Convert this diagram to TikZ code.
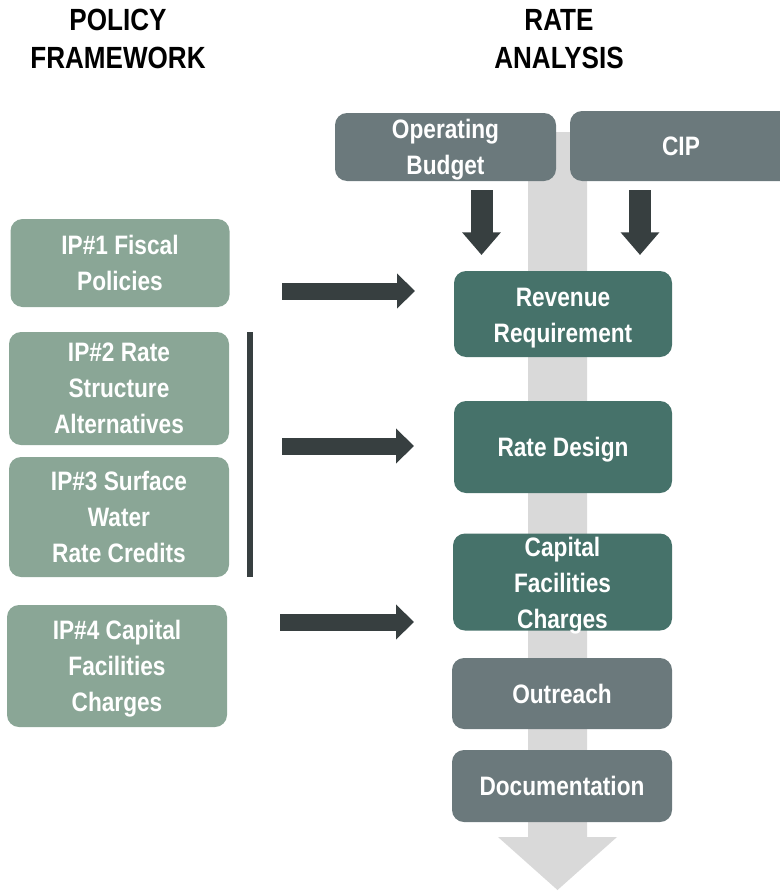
\documentclass[tikz,border=0pt]{standalone}
\usepackage{fontspec}
\setmainfont{Liberation Sans}[FakeStretch=0.85]
\usetikzlibrary{arrows.meta}
\definecolor{boxgray}{HTML}{6B797C}
\definecolor{boxgreen}{HTML}{46726A}
\definecolor{boxsage}{HTML}{8AA696}
\definecolor{arrowdark}{HTML}{373F40}
\definecolor{flowgray}{HTML}{D9D9D9}
\begin{document}
\begin{tikzpicture}[x=0.75pt,y=-0.75pt,
  txt/.style={font=\bfseries\fontsize{20}{27}\selectfont, align=center, inner sep=0pt},
  head/.style={font=\bfseries\fontsize{23}{28}\selectfont, align=center, inner sep=0pt},
  boxtext/.style={txt, text=white},
  box/.style 2 args={txt, text=white, rounded corners=9pt, minimum width=#1*0.75pt, minimum height=#2*0.75pt},
  graybox/.style 2 args={box={#1}{#2}, fill=boxgray},
  greenbox/.style 2 args={box={#1}{#2}, fill=boxgreen},
  sagebox/.style 2 args={box={#1}{#2}, fill=boxsage},
  fatright/.style={draw=arrowdark, line width=12.75pt, -{Triangle[length=13.5pt,width=25.5pt]}},
  fatdown/.style={draw=arrowdark, line width=16.5pt, -{Triangle[length=17pt,width=28pt]}},
  bracketline/.style={draw=arrowdark, line width=4.5pt}
]
\useasboundingbox (0,0) rectangle (780,892);
\clip (0,0) rectangle (780,892);
% big flow arrow
\fill[flowgray] (528,132) -- (587,132) -- (587,837) -- (617,837) -- (557.5,890) -- (498,837) -- (528,837) -- cycle;
% headers
\node[head] (hpol) at (118,39) {POLICY\\FRAMEWORK};
\node[head] (hrate) at (559,39) {RATE\\ANALYSIS};
% top boxes
\node[graybox={221}{68}] (opb) at (445.5,147) {};
\node[boxtext] (opbt) at ([yshift=-2.25pt]opb.center) {Operating\\Budget};
\node[graybox={222}{70}] (cip) at (681,146) {CIP};
% right column
\node[greenbox={218}{86}] (rev) at (563,314) {};
\node[boxtext] (revt) at ([yshift=-3pt]rev.center) {Revenue\\Requirement};
\node[greenbox={218}{92}] (rd) at (563,447) {};
\node[boxtext] (rdt) at ([yshift=-2.25pt]rd.center) {Rate Design};
\node[greenbox={219}{97}] (cfc) at (562.5,582) {};
\node[boxtext] (cfct) at ([yshift=-3pt]cfc.center) {Capital\\Facilities\\Charges};
\node[graybox={220}{71}] (out) at (562,693.5) {Outreach};
\node[graybox={220}{72}] (doc) at (562,786) {Documentation};
% left column
\node[sagebox={219}{88}] (ip1) at (120,263) {IP\#1 Fiscal\\Policies};
\node[sagebox={220}{113}] (ip2) at (119,388.5) {IP\#2 Rate\\Structure\\Alternatives};
\node[sagebox={220}{120}] (ip3) at (119,517) {IP\#3 Surface\\Water\\Rate Credits};
\node[sagebox={220}{122}] (ip4) at (117,666) {};
\node[boxtext] (ip4t) at ([yshift=-2.25pt]ip4.center) {IP\#4 Capital\\Facilities\\Charges};
% down arrows
\coordinate (d1s) at (481.5,190); \coordinate (d1e) at (481.5,255);
\coordinate (d2s) at (640,190); \coordinate (d2e) at (640,255);
\draw[fatdown] (d1s) -- (d1e);
\draw[fatdown] (d2s) -- (d2e);
% bracket line
\coordinate (bl1) at (250,332); \coordinate (bl2) at (250,577);
\draw[bracketline] (bl1) -- (bl2);
% right arrows
\coordinate (a1s) at (282,291); \coordinate (a1e) at (415,291);
\coordinate (a2s) at (282,446); \coordinate (a2e) at (414,446);
\coordinate (a3s) at (280,622); \coordinate (a3e) at (414,622);
\draw[fatright] (a1s) -- (a1e);
\draw[fatright] (a2s) -- (a2e);
\draw[fatright] (a3s) -- (a3e);
\end{tikzpicture}
\end{document}
